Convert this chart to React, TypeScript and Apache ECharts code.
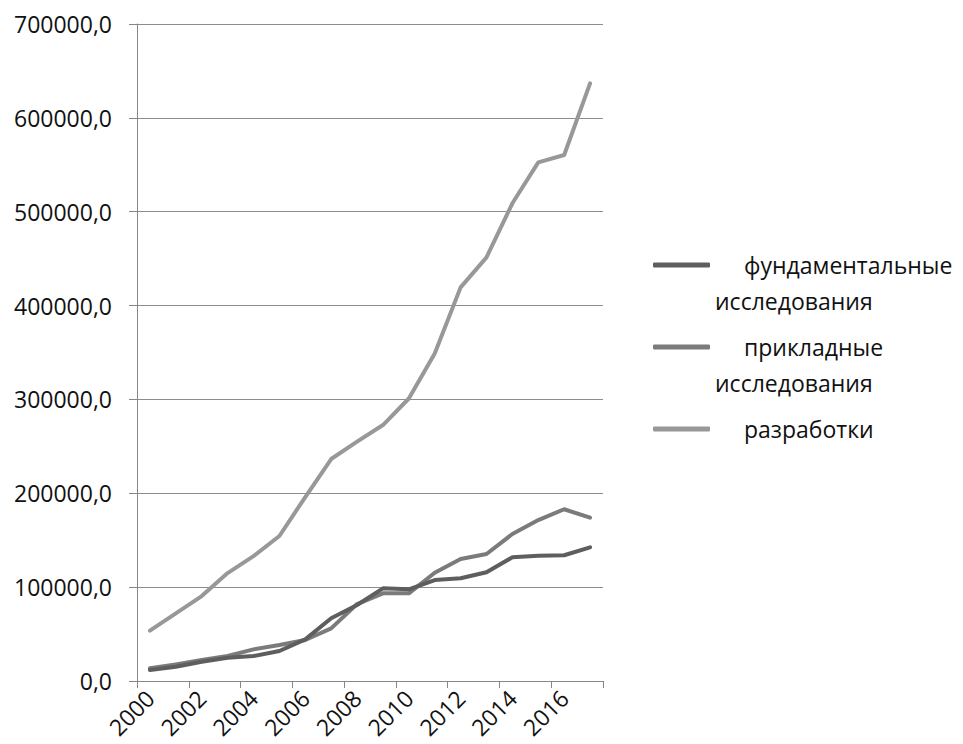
import React, { useEffect, useRef } from "react";
import * as echarts from "echarts";

const years = ["2000","2001","2002","2003","2004","2005","2006","2007","2008","2009","2010","2011","2012","2013","2014","2015","2016","2017"];
const fundamental = [11700,15200,20600,24800,26600,32000,44400,66800,81000,98700,97700,107600,109400,115800,131800,133500,134000,142400];
const applied = [13500,17700,22400,26600,33700,38300,43700,56100,82000,93400,93400,115400,130000,135300,156600,171500,183000,174000];
const development = [53600,72000,90500,115000,133000,154500,196000,236500,255000,272700,301000,349000,419400,451400,509000,552600,560400,636800];

const seriesNames = ["фундаментальные исследования", "прикладные исследования", "разработки"];
const legendLabels: Record<string, string> = {
  "фундаментальные исследования": "\n{p|фундаментальные}\nисследования",
  "прикладные исследования": "\n{p|прикладные}\nисследования",
  "разработки": "\n{p|разработки}\n",
};
const colors = ["#5e5e5e", "#7b7b7b", "#989898"];

export default function App() {
  const ref = useRef<HTMLDivElement>(null);
  useEffect(() => {
    const chart = echarts.init(ref.current!, null, { renderer: "svg" });
    const font = "'Open Sans', sans-serif";
    const data = [fundamental, applied, development];
    chart.setOption({
      animation: false,
      grid: { left: 137, right: 360, top: 24, bottom: 63, containLabel: false, outerBoundsMode: "none" },
      legend: {
        orient: "vertical",
        left: 653,
        top: 211,
        padding: 0,
        itemGap: -26,
        itemWidth: 57,
        itemHeight: 5,
        icon: "roundRect",
        itemStyle: { borderWidth: 0 },
        data: seriesNames,
        formatter: (n: string) => legendLabels[n],
        textStyle: {
          fontFamily: font,
          fontSize: 23,
          color: "#111",
          lineHeight: 36,
          rich: { p: { padding: [0, 0, 0, 29], fontFamily: font, fontSize: 23, color: "#111", lineHeight: 36 } },
        },
      },
      xAxis: {
        type: "category",
        data: years,
        boundaryGap: true,
        axisLine: { lineStyle: { color: "#868686", width: 1 } },
        axisTick: { show: true, length: 7, lineStyle: { color: "#868686" } },
        axisLabel: { interval: 1, rotate: 45, margin: 13, fontFamily: font, fontSize: 23, color: "#111" },
        splitLine: { show: false },
      },
      yAxis: {
        type: "value",
        min: 0,
        max: 700000,
        interval: 100000,
        axisLine: { show: true, lineStyle: { color: "#868686", width: 1 } },
        axisTick: { show: true, length: 8, lineStyle: { color: "#868686" } },
        axisLabel: {
          margin: 25,
          fontFamily: font,
          fontSize: 23,
          color: "#111",
          formatter: (v: number) => v.toFixed(1).replace(".", ","),
        },
        splitLine: { show: true, lineStyle: { color: "#8c8c8c", width: 1 } },
      },
      series: seriesNames.map((name, i) => ({
        name,
        type: "line",
        data: data[i],
        symbol: "none",
        color: colors[i],
        lineStyle: { width: 4, color: colors[i], cap: "round", join: "round" },
        z: 3 - i,
      })),
    });
    return () => chart.dispose();
  }, []);
  return <div ref={ref} style={{ position: "absolute", left: 0, top: 0, width: 963, height: 744 }} />;
}
